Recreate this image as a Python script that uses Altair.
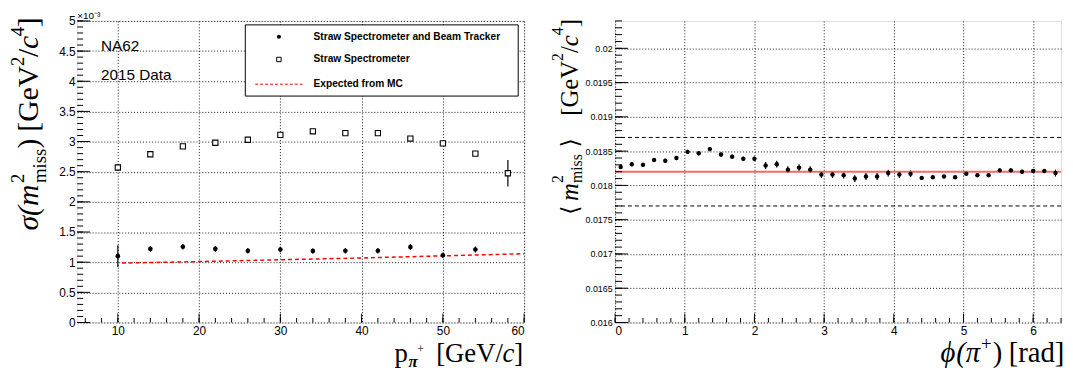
import altair as alt
import pandas as pd
import numpy as np

# ---------------- Left panel data (values in units of 1e-3 GeV^2/c^4) ----------------
p_filled = [10, 14, 18, 22, 26, 30, 34, 38, 42, 46, 50, 54]
sig_filled = [1.10, 1.22, 1.255, 1.22, 1.19, 1.21, 1.185, 1.19, 1.19, 1.25, 1.115, 1.21]
err_filled = [0.18, 0.045, 0.045, 0.045, 0.045, 0.045, 0.045, 0.045, 0.045, 0.05, 0.045, 0.05]

p_open = [10, 14, 18, 22, 26, 30, 34, 38, 42, 46, 50, 54, 58]
sig_open = [2.57, 2.79, 2.92, 2.98, 3.03, 3.11, 3.17, 3.14, 3.14, 3.05, 2.97, 2.80, 2.475]
err_open = [0.05, 0.02, 0.02, 0.02, 0.02, 0.02, 0.02, 0.02, 0.02, 0.02, 0.02, 0.03, 0.22]

mc_p = [10.5, 20, 30, 40, 50, 60]
mc_sig = [0.985, 1.01, 1.04, 1.07, 1.105, 1.14]

legend_labels = ["Straw Spectrometer and Beam Tracker", "Straw Spectrometer", "Expected from MC"]

# ---------------- Right panel data ----------------
phi = [0.08, 0.24, 0.40, 0.56, 0.72, 0.88, 1.04, 1.20, 1.36, 1.52,
       1.68, 1.84, 2.00, 2.16, 2.32, 2.48, 2.64, 2.80, 2.96, 3.12,
       3.28, 3.44, 3.60, 3.76, 3.92, 4.08, 4.24, 4.40, 4.56, 4.72,
       4.88, 5.04, 5.20, 5.36, 5.52, 5.68, 5.84, 6.00, 6.16, 6.32]
m2 = [0.01827, 0.01831, 0.01830, 0.01837, 0.01836, 0.01840, 0.01849, 0.01847, 0.01853, 0.01845,
      0.01842, 0.01839, 0.01839, 0.01829, 0.01831, 0.01823, 0.01826, 0.01823, 0.01816, 0.01816,
      0.01815, 0.01810, 0.01813, 0.01813, 0.01818, 0.01816, 0.01817, 0.01811, 0.01812, 0.01813,
      0.01812, 0.01817, 0.01815, 0.01815, 0.01822, 0.01822, 0.01820, 0.01821, 0.01821, 0.01818]
m2_err = [0.00003] * 13 + [0.00005] * 14 + [0.00002] * 4 + [0.00003] * 8 + [0.00005]
ref_mean = [0.0182]
band = [0.0177, 0.0187]

# ---------------- geometry / style ----------------
W1, W2, H = 452, 451, 305
SANS = "Liberation Sans"
SERIF = "Liberation Serif"

xs1 = alt.Scale(domain=[5, 60], nice=False, zero=False)
ys1 = alt.Scale(domain=[0, 5], nice=False, zero=False)
xs2 = alt.Scale(domain=[0, 6.4], nice=False, zero=False)
ys2 = alt.Scale(domain=[0.016, 0.0204], nice=False, zero=False)

grid_kw = dict(grid=True, gridDash=[1, 2], gridColor="black", gridOpacity=0.9, gridWidth=1,
               ticks=False, domain=False, labelColor="black", labelFont=SANS,
               titleFont=SERIF, titleFontWeight="normal", titleColor="black")

x1_axis = alt.Axis(values=[10, 20, 30, 40, 50, 60], labelFontSize=12, labelPadding=3,
                   title=None, **grid_kw)
y1_axis = alt.Axis(values=[0, 0.5, 1, 1.5, 2, 2.5, 3, 3.5, 4, 4.5, 5], format="~g",
                   labelFontSize=12, labelPadding=2, title=None, **grid_kw)
x2_axis = alt.Axis(values=[0, 1, 2, 3, 4, 5, 6], labelFontSize=12, labelPadding=3,
                   title=None, **grid_kw)
y2_axis = alt.Axis(values=[0.016, 0.0165, 0.017, 0.0175, 0.018, 0.0185, 0.019, 0.0195, 0.02],
                   format="~g", labelFontSize=9, labelPadding=3, title=None, **grid_kw)


def one():
    return pd.DataFrame({"a": [0]})


def yticks(vals, scale, axis, length):
    return alt.Chart(pd.DataFrame({"v": vals})).mark_rule(color="black", strokeWidth=1).encode(
        y=alt.Y("v:Q", scale=scale, axis=axis), x=alt.value(0), x2=alt.value(length))


def xticks(vals, scale, axis, length):
    return alt.Chart(pd.DataFrame({"v": vals})).mark_rule(color="black", strokeWidth=1).encode(
        x=alt.X("v:Q", scale=scale, axis=axis), y=alt.value(H), y2=alt.value(H - length))


def text_at(txt, x, y, size, weight="normal", font=SANS, align="left", baseline="middle",
            italic=False):
    return alt.Chart(one()).mark_text(text=txt, font=font, fontSize=size, fontWeight=weight,
                                      fontStyle="italic" if italic else "normal",
                                      align=align, baseline=baseline, color="black").encode(
        x=alt.value(x), y=alt.value(y))


def hz(txt, x, y, size, italic=False, weight="normal", font=SERIF):
    # horizontal title piece (alphabetic baseline)
    return text_at(txt, x, y, size, weight=weight, font=font, baseline="alphabetic", italic=italic)


def rot(txt, x, y, size, italic=False, font=SERIF):
    # vertical (bottom-to-top) title piece
    return alt.Chart(one()).mark_text(text=txt, font=font, fontSize=size,
                                      fontStyle="italic" if italic else "normal",
                                      angle=270, align="left", baseline="alphabetic",
                                      color="black").encode(x=alt.value(x), y=alt.value(y))


# axis titles built from pieces (super/subscripts placed as in ROOT TLatex)
left_ytitle = [
    rot("σ(m", -40, 212, 30, True), rot("2", -54, 164, 19), rot("miss", -32, 164, 19),
    rot(")", -40, 129, 30), rot("[GeV", -40, 112, 30), rot("2", -54, 45.5, 19),
    rot("/", -40, 36.5, 30), rot("c", -40, 28.5, 30, True), rot("4", -54, 15.5, 19),
    rot("]", -40, 6.3, 30),
]
right_ytitle = [
    rot("⟨", -38, 196, 24, font="DejaVu Serif"), rot("m", -38, 182, 25, True),
    rot("2", -53, 164, 16), rot("miss", -33, 164, 16),
    rot("⟩", -38, 128, 24, font="DejaVu Serif"), rot("[GeV", -38, 96, 25),
    rot("2", -53, 40.5, 16), rot("/", -38, 32.5, 25), rot("c", -38, 25.5, 25, True),
    rot("4", -53, 14.4, 16), rot("]", -38, 6.4, 25),
]
left_xtitle = [
    hz("p", 321, H + 40, 27), hz("π", 335, H + 45, 17, italic=True, weight="bold"),
    hz("+", 344, H + 31, 12), hz("[GeV/", 363, H + 40, 27), hz("c", 430, H + 40, 27, italic=True),
    hz("]", 442, H + 40, 27),
]
right_xtitle = [
    hz("ϕ", 329, H + 40, 29, italic=True), hz("(π", 345, H + 40, 29, italic=True),
    hz("+", 370, H + 28, 19), hz(")", 382, H + 40, 29), hz("[rad]", 398, H + 40, 29),
]

# ---------------- Left panel ----------------
dfF = pd.DataFrame({"p": p_filled, "s": sig_filled,
                    "lo": np.array(sig_filled) - np.array(err_filled),
                    "hi": np.array(sig_filled) + np.array(err_filled)})
dfO = pd.DataFrame({"p": p_open, "s": sig_open,
                    "lo": np.array(sig_open) - np.array(err_open),
                    "hi": np.array(sig_open) + np.array(err_open)})
dfMC = pd.DataFrame({"p": mc_p, "s": mc_sig})

X1 = lambda f: alt.X(f, type="quantitative", scale=xs1, axis=x1_axis)
Y1 = lambda f: alt.Y(f, type="quantitative", scale=ys1, axis=y1_axis)

mc_line = alt.Chart(dfMC).mark_line(color="red", strokeDash=[4, 3], strokeWidth=1.5).encode(
    x=X1("p"), y=Y1("s"))
errF = alt.Chart(dfF).mark_rule(color="black", strokeWidth=1.2).encode(
    x=X1("p"), y=Y1("lo"), y2="hi:Q")
ptsF = alt.Chart(dfF).mark_point(filled=True, shape="circle", size=22, color="black", opacity=1).encode(
    x=X1("p"), y=Y1("s"))
errO = alt.Chart(dfO).mark_rule(color="black", strokeWidth=1.2).encode(
    x=X1("p"), y=Y1("lo"), y2="hi:Q")
ptsO = alt.Chart(dfO).mark_point(filled=True, shape="square", size=28, fill="white", stroke="black",
                                 strokeWidth=1.1, opacity=1).encode(x=X1("p"), y=Y1("s"))

leg_box = alt.Chart(one()).mark_rect(fill="white", stroke="black", strokeWidth=1).encode(
    x=alt.value(170), x2=alt.value(446), y=alt.value(4), y2=alt.value(76))
leg_pt = alt.Chart(one()).mark_point(filled=True, shape="circle", size=18, color="black", opacity=1).encode(
    x=alt.value(204), y=alt.value(16))
leg_sq = alt.Chart(one()).mark_point(filled=True, shape="square", size=20, fill="white", stroke="black",
                                     strokeWidth=1, opacity=1).encode(x=alt.value(204), y=alt.value(39))
leg_ln = alt.Chart(one()).mark_rule(color="red", strokeDash=[3, 2], strokeWidth=1).encode(
    x=alt.value(180), x2=alt.value(228), y=alt.value(64))
leg_t = [text_at(legend_labels[i], 239, y, 10.3, weight="bold") for i, y in enumerate([16, 39, 64])]

na62 = text_at("NA62", 24, 25, 15.5)
data15 = text_at("2015 Data", 24, 55, 15.5)
expo = text_at("×10⁻³", 0, -2, 10, baseline="alphabetic")

left = alt.layer(
    mc_line, leg_box, leg_pt, leg_sq, leg_ln, *leg_t, na62, data15, expo,
    *left_ytitle, *left_xtitle,
    errO, ptsO, errF, ptsF,
    yticks(list(np.round(np.arange(0, 5.001, 0.1), 3)), ys1, y1_axis, 6),
    yticks(list(np.round(np.arange(0, 5.001, 0.5), 3)), ys1, y1_axis, 13),
    xticks(list(range(6, 61, 2)), xs1, x1_axis, 4.5),
    xticks(list(range(10, 61, 10)), xs1, x1_axis, 9),
).properties(width=W1, height=H)

# ---------------- Right panel ----------------
dfR = pd.DataFrame({"phi": phi, "m": m2,
                    "lo": np.array(m2) - np.array(m2_err),
                    "hi": np.array(m2) + np.array(m2_err)})

X2 = lambda f: alt.X(f, type="quantitative", scale=xs2, axis=x2_axis)
Y2 = lambda f: alt.Y(f, type="quantitative", scale=ys2, axis=y2_axis)

errR = alt.Chart(dfR).mark_rule(color="black", strokeWidth=1.2).encode(
    x=X2("phi"), y=Y2("lo"), y2="hi:Q")
refline = alt.Chart(pd.DataFrame({"y": ref_mean})).mark_rule(color="#f26b6b", strokeWidth=2).encode(
    y=Y2("y"))
bandlines = alt.Chart(pd.DataFrame({"y": band})).mark_rule(color="black", strokeDash=[4, 3], strokeWidth=1).encode(
    y=Y2("y"))
ptsR = alt.Chart(dfR).mark_point(filled=True, shape="circle", size=20, color="black", opacity=1).encode(
    x=X2("phi"), y=Y2("m"))

right = alt.layer(
    errR, refline, bandlines, ptsR, *right_ytitle, *right_xtitle,
    yticks(list(np.round(np.arange(0.016, 0.02041, 0.0001), 5)), ys2, y2_axis, 7),
    yticks(list(np.round(np.arange(0.016, 0.02041, 0.0005), 5)), ys2, y2_axis, 13),
    xticks(list(np.round(np.arange(0, 6.401, 0.2), 2)), xs2, x2_axis, 4.5),
    xticks(list(range(0, 7)), xs2, x2_axis, 9),
).properties(width=W2, height=H)

chart = alt.hconcat(left, right, spacing=92, bounds="flush").properties(
    padding={"left": 0, "top": 0, "right": 0, "bottom": 0}
).configure_view(stroke="black", strokeWidth=1, fill="white").configure(background="white")

chart.save("out.html", embed_options={"renderer": "svg", "actions": False})
